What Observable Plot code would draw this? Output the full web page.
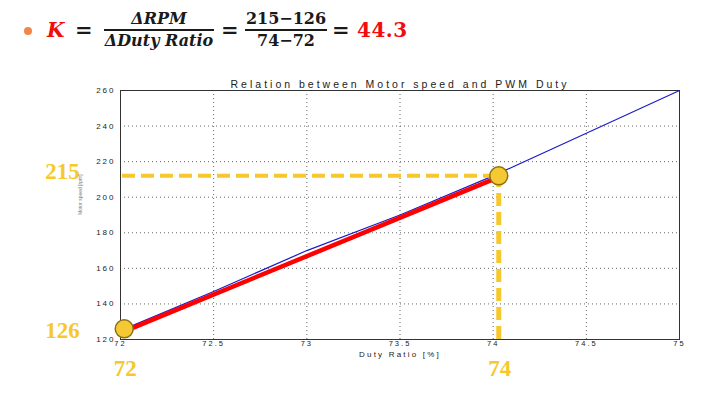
<!DOCTYPE html>
<html>
<head>
<meta charset="utf-8">
<script src="https://cdn.jsdelivr.net/npm/d3@7"></script>
<script src="https://cdn.jsdelivr.net/npm/@observablehq/plot@0.6"></script>
<style>
  html, body { margin: 0; padding: 0; background: #fff; }
  #wrap { position: relative; width: 714px; height: 397px; overflow: hidden; background: #fff; }
  .f { position: absolute; font-family: "DejaVu Serif", serif; font-weight: bold; color: #1a1a1a; white-space: nowrap; }
  .it { font-style: italic; }
  .red { color: #f20c0c; }
  .frac { position: absolute; text-align: center; font-family: "DejaVu Serif", serif; font-weight: bold; font-size: 16px; color: #1a1a1a; }
  .frac .num { line-height: 18px; padding-bottom: 1px; border-bottom: 2px solid #1a1a1a; }
  .frac .den { line-height: 18px; padding-top: 1px; }
  #bullet { position: absolute; left: 24px; top: 27px; width: 8px; height: 8px; border-radius: 50%; background: #f0874a; }
  #chart { position: absolute; left: 0; top: 70px; }
  g[aria-label="x-axis tick label"] text, g[aria-label="y-axis tick label"] text { letter-spacing: 2px; }
</style>
</head>
<body>
<div id="wrap">
  <div id="bullet"></div>
  <div class="f it red" style="left:47px; top:18px; font-size:20px; line-height:24px;">K</div>
  <div class="f" style="left:75px; top:18px; font-size:21px; line-height:24px;">=</div>
  <div class="frac" style="left:104px; top:10px; width:110px;">
    <div class="num it">ΔRPM</div>
    <div class="den it">ΔDuty Ratio</div>
  </div>
  <div class="f" style="left:221px; top:18px; font-size:21px; line-height:24px;">=</div>
  <div class="frac" style="left:245px; top:10px; width:82px;">
    <div class="num">215−126</div>
    <div class="den">74−72</div>
  </div>
  <div class="f" style="left:332px; top:18px; font-size:21px; line-height:24px;">=</div>
  <div class="f red" style="left:357px; top:18px; font-size:20px; line-height:24px; letter-spacing:0.5px;">44.3</div>
  <div id="chart"></div>
</div>
<script>
// ---- data ----
const dutyRatio = [72, 72.5, 73, 73.5, 74, 74.5, 75];
const motorRpm  = [125, 147, 170, 190, 212, 236, 260];

const fitDuty = [72.03, 74.0];
const fitRpm  = [125, 210];

const pointDuty = [72.02, 74.03];
const pointRpm  = [126, 212];
const pointRpmLabels  = ["126", "215"];
const pointDutyLabels = ["72", "74"];

const xTicks = [72, 72.5, 73, 73.5, 74, 74.5, 75];
const yTicks = [120, 140, 160, 180, 200, 220, 240, 260];
const xDomain = [72, 75];
const yDomain = [120, 260];

const chartTitle = "Relation between Motor speed and PWM Duty";
const xLabel = "Duty Ratio [%]";
const yLabel = "Motor speed [rpm]";

// ---- tables ----
const blueData = dutyRatio.map((d, i) => ({x: d, y: motorRpm[i]}));
const redData = fitDuty.map((d, i) => ({x: d, y: fitRpm[i]}));
const points = pointDuty.map((d, i) => ({x: d, y: pointRpm[i], ylab: pointRpmLabels[i], xlab: pointDutyLabels[i]}));
const pB = points[1];

const yellow = "#f6c82c";
const labelFont = "Liberation Serif, serif";

const chart = Plot.plot({
  width: 714,
  height: 320,
  marginLeft: 120,
  marginRight: 35,
  marginTop: 20,
  marginBottom: 51,
  style: {fontFamily: "Liberation Sans, Arial, sans-serif", background: "transparent", overflow: "visible"},
  x: {domain: xDomain, ticks: xTicks, tickFormat: d => String(d)},
  y: {domain: yDomain, ticks: yTicks, tickFormat: d => String(d)},
  marks: [
    Plot.gridX(xTicks, {stroke: "#666", strokeOpacity: 1, strokeDasharray: "1,3"}),
    Plot.gridY(yTicks, {stroke: "#666", strokeOpacity: 1, strokeDasharray: "1,3"}),
    Plot.axisX(xTicks, {tickSize: 0, tickPadding: 1, fontSize: 7.5, fill: "#222", label: null, tickFormat: d => String(d)}),
    Plot.axisY(yTicks, {tickSize: 0, tickPadding: 5, fontSize: 8, fill: "#222", label: null, tickFormat: d => String(d)}),
    Plot.frame({stroke: "#333", strokeWidth: 1}),
    Plot.line(blueData, {x: "x", y: "y", stroke: "#1c1cc8", strokeWidth: 1.2}),
    Plot.line(redData, {x: "x", y: "y", stroke: "#ff0000", strokeWidth: 4.5}),
    Plot.ruleY([pB], {y: "y", x1: xDomain[0], x2: "x", stroke: yellow, strokeWidth: 4, strokeDasharray: "13,6", dx: 2}),
    Plot.ruleX([pB], {x: "x", y1: yDomain[0], y2: "y", stroke: yellow, strokeWidth: 5, strokeDasharray: "13,6"}),
    Plot.dot(points, {x: "x", y: "y", r: 9, fill: "#f5c933", stroke: "#8c7012", strokeWidth: 1.5}),
    Plot.text(points, {x: xDomain[0], y: "y", text: "ylab", dx: -58, fill: yellow, fontSize: 23, fontWeight: "bold", fontFamily: labelFont}),
    Plot.text(points, {x: "x", y: yDomain[0], text: "xlab", dx: 1, dy: 29, fill: yellow, fontSize: 23, fontWeight: "bold", fontFamily: labelFont}),
    Plot.text([chartTitle], {frameAnchor: "top", dy: -10, fontSize: 10.5, fill: "#222"}),
    Plot.text([xLabel], {frameAnchor: "bottom", dy: 17, fontSize: 8, fill: "#222"}),
    Plot.text([yLabel], {frameAnchor: "left", dx: -40, rotate: -90, fontSize: 5, fill: "#777"})
  ]
});
document.getElementById("chart").appendChild(chart);

// text styling applied after rendering
d3.select(chart).selectAll("text").each(function() {
  const t = this.textContent;
  const s = d3.select(this);
  if (t === chartTitle) s.style("letter-spacing", "3px");
  else if (t === xLabel) s.style("letter-spacing", "2.2px");
  else if (t === pointRpmLabels[1]) s.attr("transform", (s.attr("transform") || "") + " translate(0,-4)");
  else if (t === pointRpmLabels[0]) s.attr("transform", (s.attr("transform") || "") + " translate(0,2)");
});
</script>
</body>
</html>
